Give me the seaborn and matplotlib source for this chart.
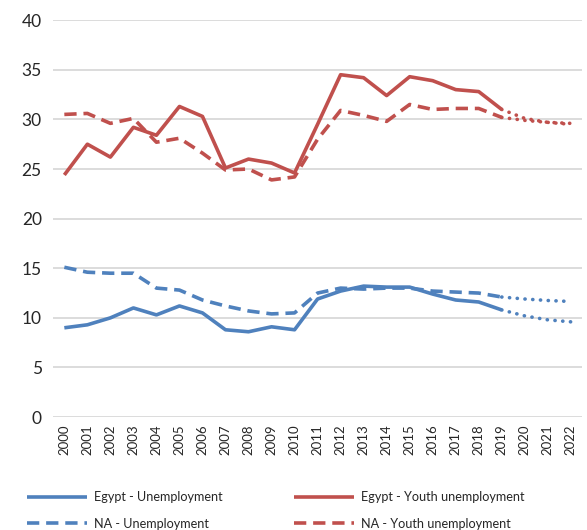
import matplotlib
matplotlib.use("Agg")
import matplotlib.pyplot as plt
import seaborn as sns
import pandas as pd

sns.set_theme(style="white")
plt.rcParams['font.family'] = ['Lato', 'DejaVu Sans']

# data
years = [str(y) for y in range(2000, 2023)]
egypt_unemp = [9.0, 9.3, 10.0, 11.0, 10.3, 11.2, 10.5, 8.8, 8.6, 9.1, 8.8,
               11.9, 12.7, 13.2, 13.1, 13.1, 12.4, 11.8, 11.6, 10.8]
egypt_unemp_fc = [10.8, 10.2, 9.8, 9.6]
na_unemp = [15.1, 14.6, 14.5, 14.5, 13.0, 12.8, 11.8, 11.2, 10.7, 10.4, 10.5,
            12.5, 13.0, 12.9, 13.0, 13.0, 12.7, 12.6, 12.5, 12.1]
na_unemp_fc = [12.1, 11.9, 11.75, 11.65]
egypt_youth = [24.4, 27.5, 26.2, 29.2, 28.4, 31.3, 30.3, 25.1, 26.0, 25.6, 24.6,
               29.5, 34.5, 34.2, 32.4, 34.3, 33.9, 33.0, 32.8, 31.0]
egypt_youth_fc = [31.0, 30.1, 29.7, 29.6]
na_youth = [30.5, 30.6, 29.6, 30.1, 27.7, 28.1, 26.6, 24.9, 25.0, 23.9, 24.2,
            28.0, 30.9, 30.4, 29.8, 31.5, 31.0, 31.1, 31.1, 30.2]
na_youth_fc = [30.2, 29.9, 29.7, 29.5]

blue = "#4F81BD"
red = "#C0504D"

fig, ax = plt.subplots(figsize=(5.87, 5.30), dpi=100)
fig.subplots_adjust(left=0.09, right=0.992, top=0.962, bottom=0.213)

hist_x = list(range(20))
fc_x = list(range(19, 23))
lw = 2.6
dash = (0, (3.4, 1.9))
dot = (0, (0.05, 2.1))

series = [
    ("Egypt - Unemployment", egypt_unemp, egypt_unemp_fc, blue, "-"),
    ("NA - Unemployment", na_unemp, na_unemp_fc, blue, dash),
    ("Egypt - Youth unemployment", egypt_youth, egypt_youth_fc, red, "-"),
    ("NA - Youth unemployment", na_youth, na_youth_fc, red, dash),
]

handles = []
for name, vals, fc, col, ls in series:
    df = pd.DataFrame({"x": hist_x, "y": vals})
    sns.lineplot(data=df, x="x", y="y", ax=ax, color=col, linewidth=lw,
                 linestyle=ls, label=name)
    handles.append(ax.lines[-1])
    dfc = pd.DataFrame({"x": fc_x, "y": fc})
    sns.lineplot(data=dfc, x="x", y="y", ax=ax, color=col, linewidth=lw,
                 linestyle=dot, dash_capstyle="round")

for ln in ax.lines:
    ln.set_solid_capstyle("butt")
ax.get_legend().remove()

ax.set_xlim(-0.5, 22.5)
ax.set_ylim(0, 40)
ax.set_yticks(range(0, 41, 5))
ax.set_xticks(range(len(years)))
ax.set_xticklabels(years, rotation=90, fontsize=9.5)
ax.tick_params(axis="y", labelsize=12.5, length=0, pad=8)
ax.tick_params(axis="x", length=0, pad=5)
ax.set_xlabel("")
ax.set_ylabel("")
ax.grid(axis="y", color="#D9D9D9", linewidth=1.3)
ax.set_axisbelow(True)
sns.despine(ax=ax, left=True, bottom=True)

fig.legend(handles=handles, labels=[s[0] for s in series], ncol=2,
           loc="lower left", bbox_to_anchor=(0.026, -0.021), frameon=False,
           fontsize=9.1, handlelength=4.8, columnspacing=5.6,
           labelspacing=1.15, handletextpad=0.55)

fig.savefig("out.png", dpi=100)
